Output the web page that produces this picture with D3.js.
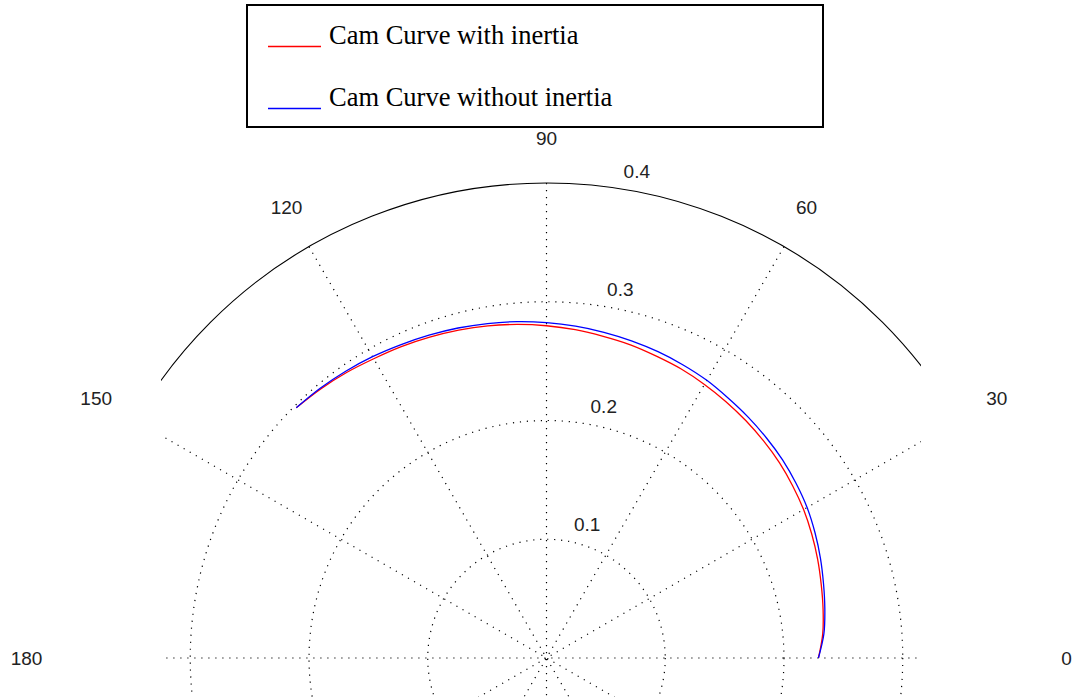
<!DOCTYPE html>
<html>
<head>
<meta charset="utf-8">
<script src="https://cdn.jsdelivr.net/npm/d3@7"></script>
<style>
  html, body { margin: 0; padding: 0; background: #fff; }
  svg { display: block; }
</style>
</head>
<body>
<svg id="chart" width="1073" height="697"></svg>
<script>
// ---- data ----
const thetaDeg = [0,5,10,15,20,25,30,35,40,45,50,55,60,65,70,75,80,85,90,95,100,105,110,115,120,125,130,135];
const withInertia = [0.229,0.2335,0.2365,0.2395,0.243,0.2465,0.250,0.253,0.256,0.2585,0.261,0.2635,0.266,0.2685,0.2705,0.273,0.275,0.2775,0.2798,0.282,0.284,0.2858,0.2875,0.2893,0.291,0.2935,0.2958,0.298];
const withoutInertia = [0.229,0.2345,0.238,0.2415,0.2455,0.2495,0.2534,0.2565,0.2595,0.262,0.2645,0.267,0.270,0.2723,0.2745,0.2765,0.2785,0.2805,0.2824,0.2843,0.286,0.2877,0.2893,0.291,0.293,0.2948,0.2965,0.298];
const radialTicks = [0.1, 0.2, 0.3, 0.4];
const spokeAngles = [0, 30, 60, 90, 120, 150];
const angleLabels = [0, 30, 60, 90, 120, 150, 180];
const seriesNames = ["Cam Curve with inertia", "Cam Curve without inertia"];
const seriesColors = ["#ff0000", "#0000ff"];

// ---- layout ----
const cx = 546.5, cy = 658, R = 475;
const clipX0 = 161, clipX1 = 921;
const svg = d3.select("#chart");
const r = d3.scaleLinear().domain([0, 0.4]).range([0, R]);
const rad = d => d * Math.PI / 180;

svg.append("defs").append("clipPath").attr("id", "axclip")
  .append("rect").attr("x", clipX0).attr("y", 0).attr("width", clipX1 - clipX0).attr("height", 697);

const g = svg.append("g").attr("clip-path", "url(#axclip)");
const gc = g.append("g").attr("transform", `translate(${cx},${cy})`);

// dotted inner circles
gc.selectAll("circle.grid").data(radialTicks.slice(0, -1)).join("circle")
  .attr("class", "grid").attr("r", d => r(d))
  .attr("fill", "none").attr("stroke", "#000").attr("stroke-width", 1.2)
  .attr("stroke-dasharray", "1.2,5.8");

// spokes (through the centre)
gc.selectAll("line.spoke").data(spokeAngles).join("line")
  .attr("class", "spoke")
  .attr("x1", d => r(0.4) * Math.cos(rad(d)))
  .attr("y1", d => -r(0.4) * Math.sin(rad(d)))
  .attr("x2", d => -r(0.4) * Math.cos(rad(d)))
  .attr("y2", d => r(0.4) * Math.sin(rad(d)))
  .attr("stroke", "#000").attr("stroke-width", 1.2)
  .attr("stroke-dasharray", "1.2,5.8");

// solid outer circle
gc.append("circle").attr("r", r(radialTicks[radialTicks.length - 1]))
  .attr("fill", "none").attr("stroke", "#000").attr("stroke-width", 1.1);

// curves
const line = d3.lineRadial()
  .angle(d => rad(90 - d[0]))
  .radius(d => r(d[1]))
  .curve(d3.curveCatmullRom);
[withInertia, withoutInertia].forEach((vals, i) => {
  gc.append("path")
    .datum(thetaDeg.map((t, k) => [t, vals[k]]))
    .attr("d", line)
    .attr("fill", "none")
    .attr("stroke", seriesColors[i])
    .attr("stroke-width", 1.3);
});

// angle labels (not clipped)
const labG = svg.append("g").attr("transform", `translate(${cx},${cy})`);
const rLab = 520;
labG.selectAll("text.ang").data(angleLabels).join("text")
  .attr("class", "ang")
  .attr("x", d => rLab * Math.cos(rad(d)))
  .attr("y", d => -rLab * Math.sin(rad(d)))
  .attr("text-anchor", "middle").attr("dominant-baseline", "central")
  .attr("font-family", "Liberation Sans, Arial, sans-serif")
  .attr("font-size", 19).attr("fill", "#222")
  .text(d => d);

// radial tick labels at 82 degrees
labG.selectAll("text.rt").data(radialTicks).join("text")
  .attr("class", "rt")
  .attr("x", d => r(d) * Math.cos(rad(82)) + 11)
  .attr("y", d => -r(d) * Math.sin(rad(82)) - 9.5)
  .attr("text-anchor", "start")
  .attr("font-family", "Liberation Sans, Arial, sans-serif")
  .attr("font-size", 19).attr("fill", "#222")
  .text(d => d.toFixed(1));

// legend
const leg = svg.append("g");
leg.append("rect").attr("x", 247).attr("y", 5).attr("width", 576).attr("height", 122)
  .attr("fill", "#fff").attr("stroke", "#000").attr("stroke-width", 2);
const legY = [44, 106];
seriesNames.forEach((name, i) => {
  leg.append("line")
    .attr("x1", 268).attr("x2", 321)
    .attr("y1", legY[i] + 2.5).attr("y2", legY[i] + 2.5)
    .attr("stroke", seriesColors[i]).attr("stroke-width", 1.5);
  leg.append("text")
    .attr("x", 329).attr("y", legY[i])
    .attr("font-family", "Liberation Serif, Times New Roman, serif")
    .attr("font-size", 26.5).attr("fill", "#000")
    .text(name);
});
</script>
</body>
</html>
